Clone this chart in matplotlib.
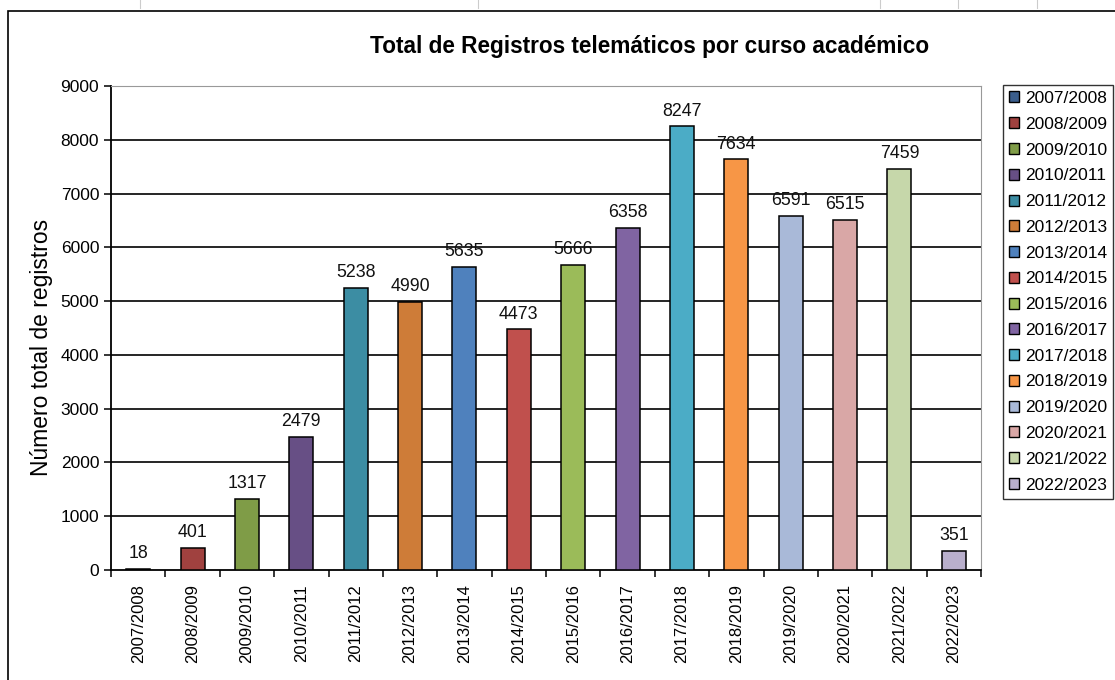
import matplotlib.pyplot as plt
from matplotlib.patches import Rectangle
from matplotlib.lines import Line2D
import numpy as np

# === Datos ===
cursos = ["2007/2008", "2008/2009", "2009/2010", "2010/2011", "2011/2012",
          "2012/2013", "2013/2014", "2014/2015", "2015/2016", "2016/2017",
          "2017/2018", "2018/2019", "2019/2020", "2020/2021", "2021/2022",
          "2022/2023"]
registros = [18, 401, 1317, 2479, 5238, 4990, 5635, 4473, 5666, 6358,
             8247, 7634, 6591, 6515, 7459, 351]
colores = ["#3B5E8C", "#A0413F", "#7F9C47", "#674F85", "#3C8DA3", "#CE7C38",
           "#4F81BD", "#C0504D", "#9BBB59", "#8064A2", "#4BACC6", "#F79646",
           "#A9B9D8", "#D9A7A6", "#C6D7AA", "#B9AFCC"]
yticks = [0, 1000, 2000, 3000, 4000, 5000, 6000, 7000, 8000, 9000]

plt.rcParams['font.family'] = ['Liberation Sans', 'DejaVu Sans']

W, H = 1115, 680
fig = plt.figure(figsize=(W / 100, H / 100), dpi=100)

# zona del grafico (pixeles)
L, R, T, B = 111, 981, 86, 570
ax = fig.add_axes([L / W, 1 - B / H, (R - L) / W, (B - T) / H])

x = np.arange(len(cursos))
barras = ax.bar(x, registros, width=0.44, color=colores, edgecolor="black",
                linewidth=1.1, zorder=3)

for xi, v in zip(x, registros):
    ax.annotate(str(v), (xi, v), xytext=(0, 5), textcoords="offset points",
                ha="center", va="bottom", fontsize=12.8, color="#111111")

ax.set_xlim(-0.5, len(cursos) - 0.5)
ax.set_ylim(0, 9000)
ax.set_yticks(yticks)
ax.tick_params(axis="y", labelsize=12.5, length=5, width=1.1, direction="out")
for yv in yticks[1:-1]:
    ax.axhline(yv, color="black", linewidth=1.2, zorder=1)

ax.set_xticks(x)
ax.set_xticklabels(cursos, rotation=90, fontsize=12)
ax.tick_params(axis="x", which="major", length=0, pad=10)
ax.set_xticks(np.arange(len(cursos) + 1) - 0.5, minor=True)
ax.tick_params(axis="x", which="minor", length=5, width=1.1, direction="out")

ax.spines["left"].set_linewidth(1.3)
ax.spines["bottom"].set_linewidth(1.3)
ax.spines["top"].set_color("#999999")
ax.spines["right"].set_color("#999999")
ax.spines["top"].set_linewidth(0.8)
ax.spines["right"].set_linewidth(0.8)

ax.set_ylabel("Número total de registros", fontsize=16.5)
ax.yaxis.set_label_coords(-0.067, 0.46)

fig.text(650 / W, 1 - 47 / H, "Total de Registros telemáticos por curso académico",
         ha="center", va="center", fontsize=16.3, fontweight="bold")

leg = fig.legend(barras, cursos, loc="upper left",
                 bbox_to_anchor=(1003 / W, 1 - 85 / H), fontsize=12.5,
                 frameon=True, fancybox=False, edgecolor="black",
                 handlelength=0.6, handleheight=0.6, handletextpad=0.3,
                 labelspacing=0.62, borderpad=0.35, borderaxespad=0)
leg.get_frame().set_linewidth(1.0)
for h in leg.legend_handles:
    h.set_linewidth(1.0)

# marco exterior del grafico
fig.add_artist(Rectangle((8 / W, -0.1), 1.2, 1 - 11 / H + 0.1,
                         transform=fig.transFigure, fill=False,
                         edgecolor="black", linewidth=1.2))
# lineas de la hoja de calculo
for px in [140, 478, 880, 958, 1037]:
    fig.add_artist(Line2D([px / W, px / W], [1, 1 - 8 / H],
                          transform=fig.transFigure, color="#cccccc", linewidth=0.8))

fig.savefig("out.png", dpi=100)
